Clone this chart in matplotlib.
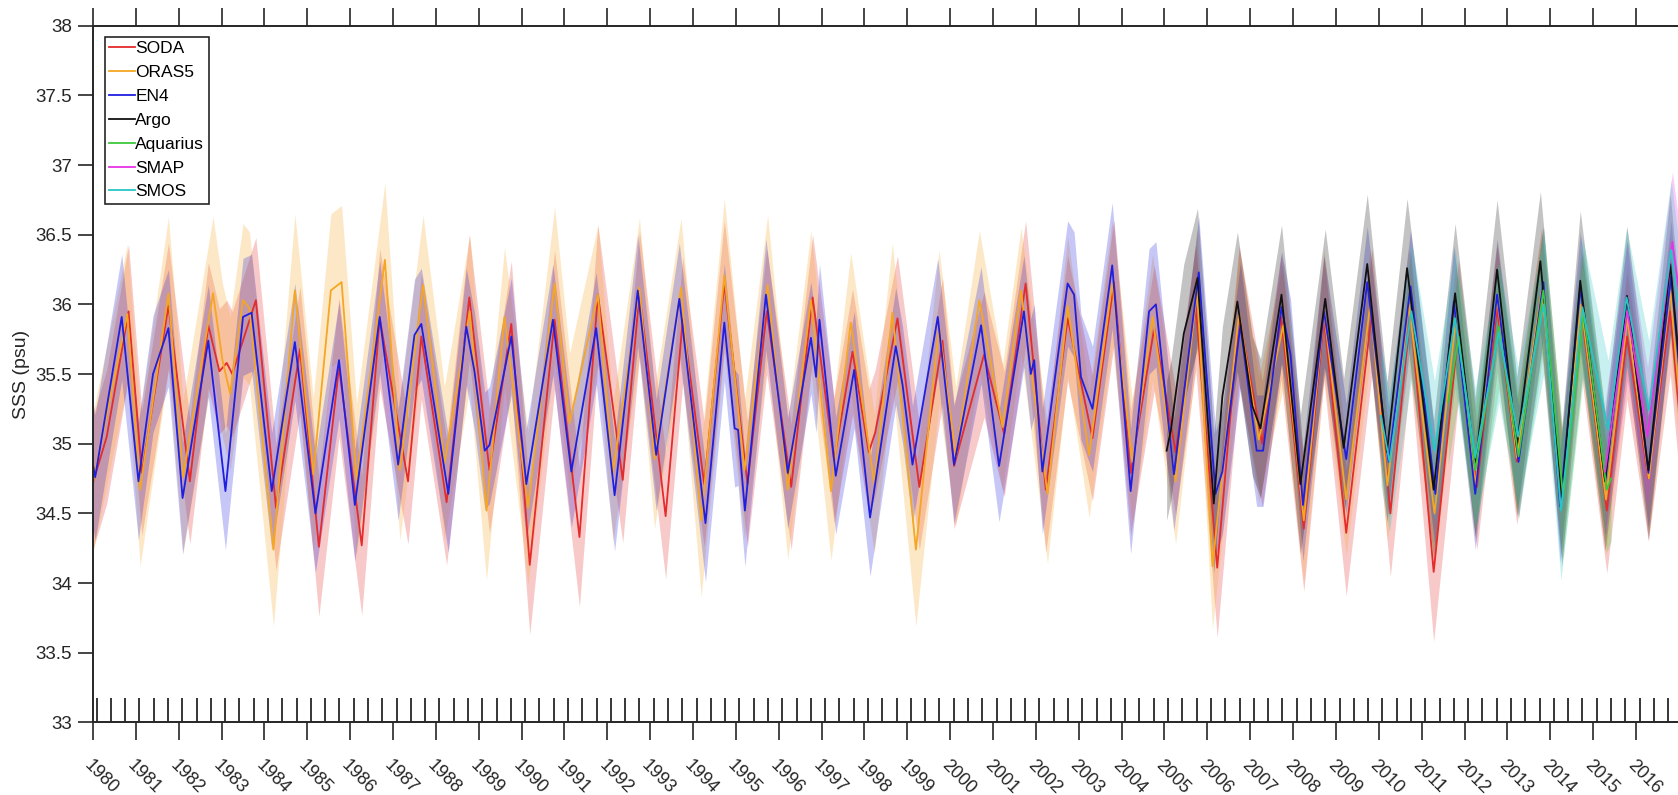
import numpy as np
import matplotlib.pyplot as plt

plt.rcParams['font.family'] = ['Liberation Sans', 'DejaVu Sans']

# (decimal year, SSS) at turning points
soda = [(1980.00, 34.72), (1980.32, 35.05), (1980.83, 35.95), (1981.14, 34.79), (1981.76, 35.99),
        (1982.26, 34.73), (1982.69, 35.85), (1982.95, 35.52), (1983.12, 35.58), (1983.25, 35.50),
        (1983.80, 36.03), (1984.27, 34.54), (1984.83, 35.68), (1985.27, 34.26), (1985.74, 35.55),
        (1986.27, 34.27), (1986.69, 35.90), (1987.35, 34.73), (1987.66, 35.77), (1988.25, 34.58),
        (1988.78, 36.05), (1989.25, 34.81), (1989.76, 35.86), (1990.19, 34.13), (1990.77, 35.89),
        (1991.35, 34.33), (1991.78, 36.07), (1992.36, 34.74), (1992.75, 36.08), (1993.36, 34.48),
        (1993.76, 35.89), (1994.26, 34.71), (1994.73, 36.15), (1995.27, 34.71), (1995.72, 35.95),
        (1996.29, 34.69), (1996.79, 36.05), (1997.29, 34.88), (1997.72, 35.66), (1998.10, 34.94),
        (1998.25, 35.08), (1998.77, 35.90), (1999.28, 34.69), (1999.82, 35.74), (2000.09, 34.84),
        (2000.79, 35.64), (2001.26, 35.07), (2001.76, 36.15), (2002.23, 34.67), (2002.74, 35.90),
        (2003.32, 35.04), (2003.82, 36.16), (2004.21, 34.79), (2004.76, 35.83), (2005.26, 34.94),
        (2005.73, 35.98), (2006.23, 34.11), (2006.74, 35.92), (2007.28, 35.00), (2007.72, 35.91),
        (2008.25, 34.39), (2008.72, 35.90), (2009.24, 34.36), (2009.84, 35.95), (2010.27, 34.50),
        (2010.74, 35.94), (2011.28, 34.08), (2011.86, 35.82), (2012.29, 34.69), (2012.76, 35.97),
        (2013.22, 34.87), (2013.80, 36.10), (2014.27, 34.62), (2014.74, 35.91), (2015.32, 34.52),
        (2015.79, 35.77), (2016.29, 34.75), (2016.80, 35.95), (2017.02, 35.20)]

oras5 = [(1980.00, 34.72), (1980.80, 35.93), (1981.10, 34.67), (1981.76, 36.08), (1982.10, 34.76),
         (1982.80, 36.08), (1983.02, 35.60), (1983.20, 35.36), (1983.50, 36.03), (1983.65, 35.97),
         (1984.21, 34.24), (1984.71, 36.10), (1985.14, 34.78), (1985.55, 36.10), (1985.80, 36.16),
         (1986.15, 34.74), (1986.81, 36.32), (1987.16, 34.81), (1987.70, 36.14), (1988.20, 34.86),
         (1988.79, 35.95), (1989.18, 34.52), (1989.60, 35.91), (1990.15, 34.54), (1990.77, 36.15),
         (1991.12, 35.15), (1991.78, 36.07), (1992.13, 34.79), (1992.75, 36.12), (1993.10, 34.89),
         (1993.72, 36.12), (1994.19, 34.45), (1994.73, 36.21), (1995.20, 34.81), (1995.74, 36.14),
         (1996.21, 34.67), (1996.75, 36.03), (1997.22, 34.66), (1997.68, 35.87), (1998.23, 34.71),
         (1998.65, 35.94), (1999.20, 34.24), (1999.74, 35.84), (2000.13, 34.91), (2000.68, 36.03),
         (2001.22, 35.12), (2001.65, 36.10), (2002.27, 34.64), (2002.74, 35.99), (2003.24, 34.92),
         (2003.78, 36.15), (2004.25, 34.87), (2004.72, 35.91), (2005.26, 34.73), (2005.76, 36.10),
         (2006.12, 34.12), (2006.74, 35.94), (2007.20, 35.03), (2007.77, 35.85), (2008.25, 34.45),
         (2008.72, 35.95), (2009.24, 34.60), (2009.80, 36.00), (2010.20, 34.70), (2010.70, 36.00),
         (2011.30, 34.50), (2011.80, 35.90), (2012.25, 34.70), (2012.76, 36.05), (2013.22, 34.90),
         (2013.80, 36.10), (2014.27, 34.65), (2014.72, 36.00), (2015.30, 34.60), (2015.80, 35.90),
         (2016.30, 34.75), (2016.80, 36.10), (2017.02, 35.30)]

en4 = [(1980.00, 34.85), (1980.05, 34.76), (1980.67, 35.91), (1981.06, 34.73), (1981.40, 35.50),
       (1981.76, 35.83), (1982.09, 34.61), (1982.69, 35.74), (1983.09, 34.66), (1983.35, 35.46),
       (1983.50, 35.91), (1983.70, 35.94), (1984.17, 34.66), (1984.71, 35.73), (1985.19, 34.50),
       (1985.74, 35.60), (1986.11, 34.56), (1986.69, 35.91), (1987.12, 34.85), (1987.50, 35.78),
       (1987.66, 35.86), (1988.29, 34.64), (1988.71, 35.84), (1988.90, 35.52), (1989.14, 34.95),
       (1989.25, 34.99), (1989.76, 35.77), (1990.11, 34.71), (1990.73, 35.89), (1991.16, 34.80),
       (1991.74, 35.83), (1992.17, 34.63), (1992.71, 36.10), (1993.14, 34.92), (1993.68, 36.04),
       (1994.29, 34.43), (1994.73, 35.87), (1994.97, 35.11), (1995.05, 35.10), (1995.21, 34.52),
       (1995.70, 36.07), (1996.21, 34.79), (1996.75, 35.76), (1996.87, 35.48), (1996.95, 35.89),
       (1997.33, 34.77), (1997.76, 35.53), (1998.13, 34.47), (1998.73, 35.70), (1998.89, 35.42),
       (1999.12, 34.85), (1999.71, 35.91), (2000.09, 34.85), (2000.72, 35.85), (2001.14, 34.84),
       (2001.72, 35.95), (2001.88, 35.50), (2001.96, 35.60), (2002.15, 34.80), (2002.74, 36.15),
       (2002.89, 36.07), (2003.05, 35.48), (2003.32, 35.25), (2003.78, 36.28), (2004.21, 34.66),
       (2004.64, 35.95), (2004.80, 36.00), (2005.10, 35.12), (2005.22, 34.78), (2005.80, 36.23),
       (2006.19, 34.64), (2006.35, 34.80), (2006.77, 35.85), (2007.15, 34.95), (2007.30, 34.95),
       (2007.73, 35.98), (2007.94, 35.64), (2008.23, 34.56), (2008.72, 35.95), (2009.24, 34.89),
       (2009.73, 36.16), (2010.23, 34.87), (2010.74, 36.13), (2011.32, 34.64), (2011.75, 36.02),
       (2012.25, 34.64), (2012.76, 36.07), (2013.26, 34.87), (2013.84, 36.16), (2014.23, 34.55),
       (2014.70, 36.12), (2015.28, 34.74), (2015.79, 36.06), (2016.29, 34.79), (2016.82, 36.20),
       (2017.02, 35.50)]

argo = [(2005.05, 34.95), (2005.15, 35.10), (2005.45, 35.79), (2005.77, 36.19), (2006.15, 34.57),
        (2006.35, 35.34), (2006.70, 36.02), (2007.05, 35.27), (2007.24, 35.11), (2007.73, 36.07),
        (2008.17, 34.71), (2008.75, 36.04), (2009.18, 34.97), (2009.73, 36.29), (2010.19, 34.94),
        (2010.66, 36.26), (2011.28, 34.67), (2011.78, 36.08), (2012.25, 34.83), (2012.76, 36.25),
        (2013.22, 34.98), (2013.77, 36.31), (2014.27, 34.62), (2014.70, 36.17), (2015.28, 34.73),
        (2015.79, 36.06), (2016.29, 34.81), (2016.80, 36.29), (2017.02, 35.55)]

aquarius = [(2011.62, 35.30), (2011.86, 35.77), (2012.25, 34.81), (2012.80, 35.84), (2013.26, 34.91),
            (2013.84, 36.10), (2014.30, 34.62), (2014.78, 35.94), (2015.32, 34.67), (2015.42, 34.75)]

smap = [(2015.28, 34.80), (2015.80, 35.95), (2016.27, 35.05), (2016.85, 36.45), (2017.02, 36.05)]

smos = [(2010.05, 35.20), (2010.25, 34.87), (2010.76, 35.95), (2011.30, 34.95), (2011.78, 35.90),
        (2012.25, 34.90), (2012.80, 35.80), (2013.25, 35.05), (2013.85, 36.00), (2014.25, 34.52),
        (2014.75, 35.98), (2015.35, 35.10), (2015.78, 36.05), (2016.30, 35.24), (2016.82, 36.39),
        (2017.02, 35.90)]

# half width of the shaded spread, one value per year 1980..2016
soda_spread = [0.48, 0.45, 0.45, 0.45, 0.45, 0.50, 0.50, 0.45, 0.45, 0.45,
               0.50, 0.50, 0.45, 0.45, 0.45, 0.45, 0.45, 0.45, 0.45, 0.45,
               0.45, 0.45, 0.45, 0.45, 0.45, 0.45, 0.50, 0.45, 0.45, 0.45,
               0.45, 0.50, 0.45, 0.45, 0.45, 0.45, 0.45]
oras5_spread = [0.50, 0.55, 0.55, 0.55, 0.55, 0.55, 0.55, 0.50, 0.55, 0.50,
                0.55, 0.50, 0.50, 0.50, 0.55, 0.50, 0.50, 0.50, 0.50, 0.55,
                0.50, 0.45, 0.50, 0.45, 0.45, 0.45, 0.45, 0.45, 0.45, 0.40,
                0.40, 0.40, 0.40, 0.40, 0.40, 0.40, 0.40]
en4_spread = [0.45, 0.42, 0.40, 0.42, 0.42, 0.42, 0.40, 0.40, 0.42, 0.42,
              0.40, 0.40, 0.40, 0.40, 0.42, 0.40, 0.40, 0.42, 0.42, 0.42,
              0.42, 0.40, 0.45, 0.45, 0.45, 0.40, 0.45, 0.40, 0.40, 0.40,
              0.40, 0.40, 0.40, 0.40, 0.40, 0.40, 0.40]
argo_spread = 0.50
aquarius_spread = 0.45
smap_spread = 0.50
smos_spread = 0.50

years = list(range(1980, 2017))

fig = plt.figure(figsize=(16.78, 7.95), dpi=100)
# axes run just past the right edge of the picture, as in the original
ax = fig.add_axes([93 / 1678, 72.6 / 795, 1588 / 1678, 696.7 / 795])


def draw(pts, spread, color, label):
    t, v = np.array(pts).T
    s = np.asarray(spread, dtype=float)
    if s.ndim:
        s = s[np.clip(t.astype(int) - 1980, 0, len(s) - 1)]
    ax.fill_between(t, v - s, v + s, color=color, alpha=0.25, lw=0)
    ax.plot(t, v, color=color, lw=1.3, label=label)


draw(soda, soda_spread, '#E52B2B', 'SODA')
draw(oras5, oras5_spread, '#F5A623', 'ORAS5')
draw(en4, en4_spread, '#1F1FE0', 'EN4')
draw(argo, argo_spread, '#111111', 'Argo')
draw(aquarius, aquarius_spread, '#3CC83C', 'Aquarius')
draw(smap, smap_spread, '#E633E6', 'SMAP')
draw(smos, smos_spread, '#26C6C6', 'SMOS')

ax.set_xlim(1980, 1980 + 1588 / 42.86)
ax.set_ylim(33, 38)

ax.set_xticks(years)
ax.set_xticklabels([str(y) for y in years])
ax.set_xticks(np.arange(1980 + 1 / 12, 2017.05, 1 / 3), minor=True)
yt = np.arange(33, 38.01, 0.5)
ax.set_yticks(yt)
ax.set_yticklabels(['%g' % y for y in yt])

ax.tick_params(axis='x', which='major', direction='out', length=13, width=1.2,
               top=True, bottom=True, labelsize=13, pad=12, colors='#262626')
ax.tick_params(axis='x', which='minor', direction='in', length=17.5, width=1.1,
               top=False, bottom=True)
ax.tick_params(axis='y', which='major', direction='out', length=11, width=1.2,
               labelsize=13.5, pad=4, colors='#262626')
for lab in ax.get_xticklabels():
    lab.set_rotation(-45)
    lab.set_ha('left')
    lab.set_va('top')
    lab.set_rotation_mode('anchor')

for sp in ax.spines.values():
    sp.set_linewidth(1.4)
    sp.set_color('#262626')

ax.set_ylabel('SSS (psu)', fontsize=14, labelpad=4, color='#262626')

leg = ax.legend(loc='upper left', bbox_to_anchor=(12 / 1588, 1 - 11.3 / 696.7),
                borderaxespad=0, fontsize=12.5, handlelength=1.45, handletextpad=0.05,
                labelspacing=0.5, borderpad=0.25, fancybox=False, framealpha=1)
leg.get_frame().set_edgecolor('#262626')
leg.get_frame().set_linewidth(1.2)

fig.savefig('out.png', dpi=100)
